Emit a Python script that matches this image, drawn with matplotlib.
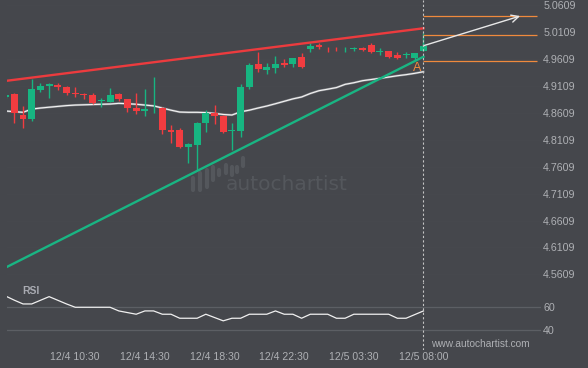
import numpy as np
import matplotlib.pyplot as plt
from matplotlib.lines import Line2D

plt.rcParams['font.family'] = ['Liberation Sans', 'DejaVu Sans']

# 30 minute candles
opens = [4.8910, 4.8960, 4.8570, 4.8496, 4.9035, 4.9115, 4.9133, 4.9090, 4.8962, 4.8949,
         4.8942, 4.8828, 4.8817, 4.8960, 4.8862, 4.8700, 4.8648, 4.8711, 4.8706, 4.8291,
         4.8291, 4.7970, 4.8012, 4.8427, 4.8613, 4.8557, 4.8271, 4.8278, 4.9096, 4.9524,
         4.9406, 4.9449, 4.9531, 4.9518, 4.9654, 4.9797, 4.9866, 4.9829, 4.9829, 4.9789,
         4.9800, 4.9821, 4.9871, 4.9745, 4.9760, 4.9685, 4.9683, 4.9635, 4.9765]
highs = [4.8951, 4.8985, 4.8743, 4.9239, 4.9159, 4.9159, 4.9165, 4.9109, 4.9085, 4.8979,
         4.8973, 4.8880, 4.9066, 4.8985, 4.8862, 4.8973, 4.9048, 4.9271, 4.8710, 4.8379,
         4.8323, 4.8044, 4.8446, 4.8663, 4.8756, 4.8570, 4.8416, 4.9146, 4.9531, 4.9735,
         4.9542, 4.9672, 4.9605, 4.9630, 4.9717, 4.9903, 4.9903, 4.9829, 4.9829, 4.9840,
         4.9840, 4.9840, 4.9903, 4.9810, 4.9760, 4.9747, 4.9735, 4.9728, 5.0094]
lows = [4.8895, 4.8427, 4.8323, 4.8464, 4.8992, 4.8880, 4.9035, 4.8942, 4.8910, 4.8862,
        4.8769, 4.8724, 4.8806, 4.8836, 4.8631, 4.8583, 4.8560, 4.8602, 4.8217, 4.8044,
        4.7951, 4.7672, 4.7548, 4.8248, 4.8397, 4.8230, 4.7920, 4.8156, 4.9048, 4.9364,
        4.9327, 4.9345, 4.9457, 4.9468, 4.9449, 4.9747, 4.9791, 4.9747, 4.9754, 4.9735,
        4.9765, 4.9760, 4.9728, 4.9685, 4.9635, 4.9605, 4.9624, 4.9592, 4.9765]
closes = [4.8942, 4.8602, 4.8496, 4.9048, 4.9109, 4.9146, 4.9096, 4.8985, 4.8958, 4.8945,
          4.8799, 4.8832, 4.8942, 4.8867, 4.8706, 4.8650, 4.8682, 4.8715, 4.8291, 4.8260,
          4.7981, 4.8031, 4.8416, 4.8613, 4.8557, 4.8260, 4.8275, 4.9085, 4.9499, 4.9425,
          4.9468, 4.9524, 4.9505, 4.9630, 4.9468, 4.9858, 4.9828, 4.9826, 4.9826, 4.9792,
          4.9803, 4.9778, 4.9747, 4.9748, 4.9654, 4.9635, 4.9687, 4.9717, 4.9858]

ma = [4.8644, 4.8632, 4.8620, 4.8680, 4.8700, 4.8715, 4.8730, 4.8745, 4.8755, 4.8760,
      4.8765, 4.8770, 4.8774, 4.8787, 4.8780, 4.8770, 4.8755, 4.8740, 4.8700, 4.8660,
      4.8625, 4.8620, 4.8620, 4.8615, 4.8600, 4.8580, 4.8570, 4.8630, 4.8660, 4.8700,
      4.8737, 4.8780, 4.8825, 4.8870, 4.8905, 4.8970, 4.9022, 4.9050, 4.9080, 4.9140,
      4.9170, 4.9208, 4.9230, 4.9252, 4.9275, 4.9300, 4.9320, 4.9345, 4.9375]

rsi = [69.0, 65.5, 62.3, 62.3, 65.4, 68.5, 65.4, 62.3, 59.5, 59.5,
       59.5, 59.5, 59.5, 56.4, 55.0, 53.6, 56.4, 56.4, 53.6, 53.6,
       50.2, 50.2, 50.2, 53.6, 50.8, 48.0, 50.2, 50.2, 53.6, 53.6,
       53.6, 56.4, 53.6, 53.6, 50.2, 53.6, 53.6, 53.6, 50.2, 50.2,
       53.6, 53.6, 53.6, 53.6, 53.6, 50.2, 50.2, 53.3, 56.4]

resist_x = [0, 48]
resist_y = [4.9204, 5.0182]
support_x = [0, 48]
support_y = [4.5734, 4.9654]

levels = [5.0410, 5.0057, 4.9568]
level_end = 61.0
arrow_to = (59.1, 5.0410)

tick_pos = [8, 16, 24, 32, 40, 48]
tick_labels = ['12/4 10:30', '12/4 14:30', '12/4 18:30', '12/4 22:30', '12/5 03:30', '12/5 08:00']
price_ticks = [4.5609 + 0.05 * i for i in range(11)]

bg = '#45474c'
txt = '#aeb0b4'
up = '#17b581'
down = '#f23c40'

W, H = 588, 368
fig = plt.figure(figsize=(W / 100, H / 100), dpi=100)
fig.patch.set_facecolor(bg)
ax = fig.add_axes([7.3 / W, (H - 282) / H, (541 - 7.3) / W, 282 / H])
ax2 = fig.add_axes([7.3 / W, (H - 350) / H, (541 - 7.3) / W, 68 / H], sharex=ax)

for a in (ax, ax2):
    a.set_facecolor(bg)
    for s in a.spines.values():
        s.set_visible(False)

x = np.arange(len(opens))
o = np.array(opens); c = np.array(closes)
cols = [up if cc >= oo else down for oo, cc in zip(o, c)]

# very faint grid
for p in price_ticks:
    ax.axhline(p, color='#47494e', lw=0.6, zorder=0)

# watermark logo
wm = '#54575c'
logo_bars = [(193.3, 178, 190), (200, 173, 190), (206.7, 170, 187), (213.3, 167, 180),
             (219, 170, 175), (225.7, 165, 173), (231.7, 167, 175), (237.3, 167, 172),
             (243.3, 158, 166)]
for bx, y0, y1 in logo_bars:
    ax.add_line(Line2D([bx / W, bx / W], [1 - y0 / H, 1 - y1 / H], color=wm,
                       lw=3, solid_capstyle='round', transform=fig.transFigure, zorder=1))
ax.text(287 / W, 1 - 185 / H, 'autochartist', color=wm, fontsize=14.5,
        family='DejaVu Sans', ha='center', va='center', transform=fig.transFigure, zorder=1)

ax.vlines(x, lows, highs, colors=cols, lw=1, zorder=3)
body = np.maximum(np.abs(c - o), 0.0012)
ax.bar(x, body, bottom=np.minimum(o, c), width=0.8, color=cols, lw=0, zorder=3)

ax.plot(x, ma, color='#86888c', lw=1.6, zorder=2)
ax.plot(x, ma, color='#f4f4f4', lw=0.8, zorder=2)

ax.plot(resist_x, resist_y, color='#ec3b3e', lw=1.7, zorder=4)
ax.plot(support_x, support_y, color='#19b583', lw=1.7, zorder=4)

ax.hlines(levels, 48, level_end, color='#ef8a3d', lw=0.9, zorder=4)
ax.annotate('', xy=arrow_to, xytext=(48, closes[-1]),
            arrowprops=dict(arrowstyle='->', color='#e8e8e8', lw=1, mutation_scale=13,
                            shrinkA=0, shrinkB=0), zorder=5)
ax.text(47.3, 4.9449, 'A', color='#ef8a3d', fontsize=9, ha='center', va='center', zorder=5)

ax.axvline(48, color='#c4c4c4', lw=0.8, ls=(0, (2, 2)), zorder=5)
ax2.axvline(48, color='#c4c4c4', lw=0.8, ls=(0, (2, 2)), zorder=5)

ax.set_xlim(0.195, 61.5)
ax.set_ylim(4.5466, 5.0708)
ax.yaxis.tick_right()
ax.set_yticks(price_ticks)
ax.set_yticklabels(['%.4f' % p for p in price_ticks])
ax.tick_params(axis='y', length=0, pad=1.5, labelsize=7.7, labelcolor=txt)
ax.tick_params(axis='x', length=0, labelbottom=False)

ax2.plot(x, rsi, color='#f0f0f0', lw=0.9, zorder=3)
ax2.set_ylim(23.3, 80.9)
ax2.set_yticks([40, 60])
ax2.yaxis.tick_right()
ax2.grid(axis='y', color='#5c5f64', lw=0.9)
ax2.tick_params(axis='y', length=0, pad=1.5, labelsize=7.7, labelcolor=txt)
ax2.set_xticks(tick_pos)
ax2.set_xticklabels(tick_labels)
ax2.tick_params(axis='x', length=0, pad=1.5, labelsize=7.6, labelcolor=txt)
ax2.text(15 / 534, 0.87, 'RSI', transform=ax2.transAxes, color='#a9abb2', fontsize=7.5,
         fontweight='bold', ha='left', va='center')
ax2.text(48.9, 24.5, 'www.autochartist.com', color=txt, fontsize=7.3, ha='left', va='bottom')

fig.savefig('out.png', dpi=100, facecolor=bg)
